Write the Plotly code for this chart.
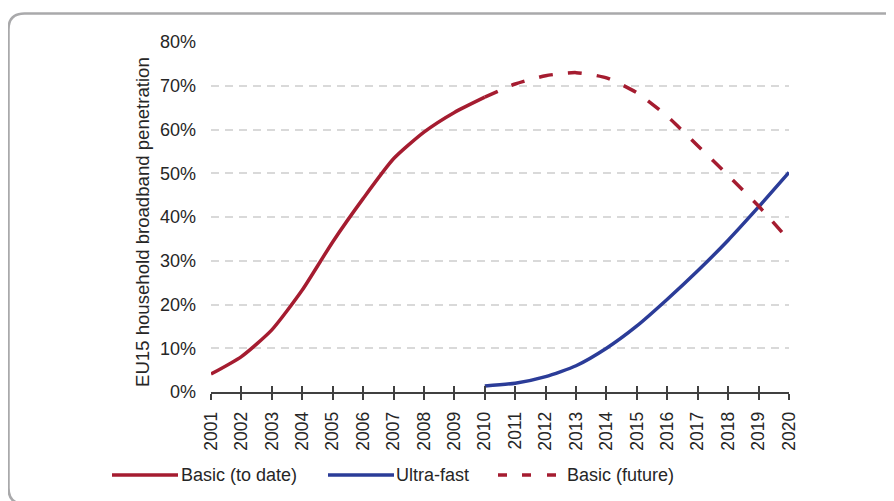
import plotly.graph_objects as go

years = list(range(2001, 2021))
basic_years = list(range(2001, 2011))
basic_to_date = [4.1, 8.1, 14.2, 23.3, 34.3, 44.2, 53.3, 59.4, 63.9, 67.4]
future_years = list(range(2010, 2021))
basic_future = [67.4, 70.4, 72.3, 73.0, 71.8, 68.4, 63.0, 56.3, 49.5, 42.5, 34.7]
ultra_years = list(range(2010, 2021))
ultra_fast = [1.4, 2.0, 3.5, 6.0, 10.0, 15.1, 21.2, 27.7, 34.7, 42.3, 50.2]
y_ticks = [0, 10, 20, 30, 40, 50, 60, 70, 80]
y_tick_labels = [f"{v}%" for v in y_ticks]
legend_names = ["Basic (to date)", "Ultra-fast", "Basic (future)"]

RED = "#A51C30"
BLUE = "#2B3C98"
FONT = "Liberation Sans, Arial, sans-serif"
TXT = "#262626"

# the page body has an 8px margin; screen-space plot area is 211..789 x 42..392
OFF = 8
W, H = 894 - OFF, 501 - OFF
SX0, SX1, SY0, SY1 = 211, 789, 42, 392
L, T = SX0 - OFF, SY0 - OFF
PW, PH = SX1 - SX0, SY1 - SY0
R, B = W - L - PW, H - T - PH

def px(x):  # screen x -> paper
    return (x - SX0) / PW

def py(y):  # screen y -> paper
    return (SY1 - y) / PH

fig = go.Figure()
fig.add_trace(go.Scatter(x=basic_years, y=basic_to_date, mode="lines", name=legend_names[0],
                         showlegend=False,
                         line=dict(color=RED, width=3.5, shape="spline", smoothing=0.6)))
fig.add_trace(go.Scatter(x=ultra_years, y=ultra_fast, mode="lines", name=legend_names[1],
                         showlegend=False,
                         line=dict(color=BLUE, width=3.5, shape="spline", smoothing=0.6)))
fig.add_trace(go.Scatter(x=future_years, y=basic_future, mode="lines", name=legend_names[2],
                         showlegend=False,
                         line=dict(color=RED, width=3.5, dash="14px,15px", shape="spline", smoothing=0.6)))
# invisible trace to carry the inside-tick overlay axis
fig.add_trace(go.Scatter(x=[years[0], years[-1]], y=[0, 0], xaxis="x2", mode="lines",
                         line=dict(width=0), showlegend=False, hoverinfo="skip"))

# rounded border around the whole chart
x0, y0, x1, y1, r = 8.5, 13.5, 901, 504, 16
path = (f"M {px(x0)},{py(y0 + r)} "
        f"Q {px(x0)},{py(y0)} {px(x0 + r)},{py(y0)} "
        f"L {px(x1 - r)},{py(y0)} "
        f"Q {px(x1)},{py(y0)} {px(x1)},{py(y0 + r)} "
        f"L {px(x1)},{py(y1 - r)} "
        f"Q {px(x1)},{py(y1)} {px(x1 - r)},{py(y1)} "
        f"L {px(x0 + r)},{py(y1)} "
        f"Q {px(x0)},{py(y1)} {px(x0)},{py(y1 - r)} Z")
fig.add_shape(type="path", path=path, xref="paper", yref="paper",
              line=dict(color="#A9A9AB", width=2.5), layer="below")

# manual legend (sample lines + labels)
LY = 475
fig.add_shape(type="line", xref="paper", yref="paper", x0=px(112), x1=px(178), y0=py(LY), y1=py(LY),
              line=dict(color=RED, width=3.5))
fig.add_shape(type="line", xref="paper", yref="paper", x0=px(328), x1=px(394), y0=py(LY), y1=py(LY),
              line=dict(color=BLUE, width=3.5))
for a, b in [(498, 507), (522, 531), (547, 556)]:
    fig.add_shape(type="line", xref="paper", yref="paper", x0=px(a), x1=px(b), y0=py(LY), y1=py(LY),
                  line=dict(color=RED, width=3.5))
for name, xs in zip(legend_names, [180, 395, 566]):
    fig.add_annotation(text=name, xref="paper", yref="paper", x=px(xs), y=py(LY),
                       xanchor="left", yanchor="middle", showarrow=False, borderpad=0,
                       font=dict(size=18, color=TXT, family=FONT))

# y-axis title
fig.add_annotation(text="EU15 household broadband penetration", xref="paper", yref="paper",
                   x=px(143), y=py(222), xanchor="center", yanchor="middle", textangle=-90,
                   showarrow=False, font=dict(size=18.6, color=TXT, family=FONT))

fig.update_layout(
    width=W, height=H,
    margin=dict(l=L, r=R, t=T, b=B),
    paper_bgcolor="white", plot_bgcolor="white",
    font=dict(family=FONT, size=18, color=TXT),
    showlegend=False,
    xaxis=dict(range=[years[0], years[-1]], tickmode="array", tickvals=years,
               ticktext=[str(y) for y in years], tickangle=-90,
               showline=True, linecolor="#404040", linewidth=1.5,
               ticks="outside", ticklen=6, tickcolor="#404040", tickwidth=1.5,
               showgrid=False, zeroline=False, automargin=False, ticklabelstandoff=5,
               tickfont=dict(size=17.5, color=TXT)),
    xaxis2=dict(range=[years[0], years[-1]], overlaying="x", side="bottom", anchor="y",
                tickmode="array", tickvals=years, showticklabels=False,
                ticks="inside", ticklen=6, tickcolor="#404040", tickwidth=1.5,
                showline=False, showgrid=False, zeroline=False),
    yaxis=dict(range=[0, 80], tickmode="array", tickvals=y_ticks, ticktext=y_tick_labels,
               showgrid=True, gridcolor="#D9D9D9", griddash="8px,6px", gridwidth=1.5,
               zeroline=False, showline=False, ticks="", ticklabelstandoff=14,
               automargin=False, tickfont=dict(size=18, color=TXT)),
)

fig.write_html("out.html")
